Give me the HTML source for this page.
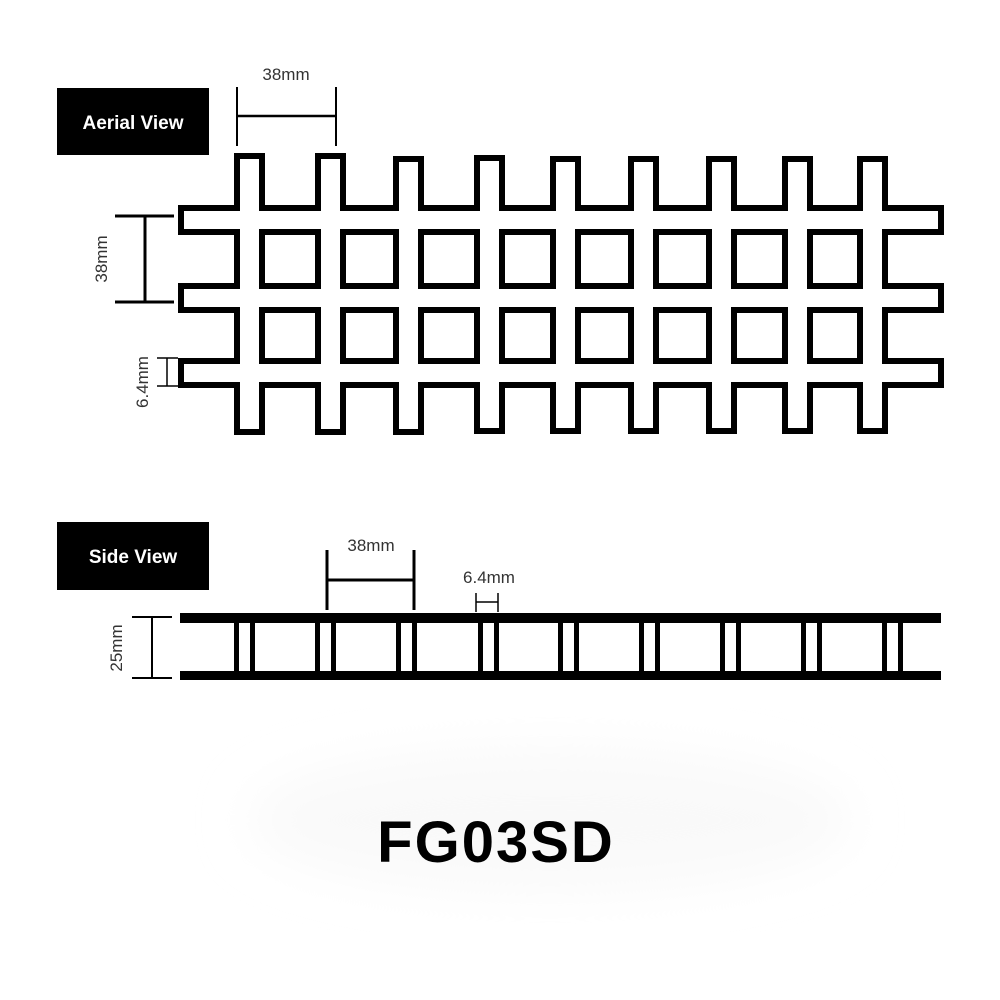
<!DOCTYPE html>
<html><head><meta charset="utf-8"><style>
html,body{margin:0;padding:0;background:#fff;}
svg{display:block;}
</style></head><body>
<svg width="1000" height="1000" viewBox="0 0 1000 1000" xmlns="http://www.w3.org/2000/svg">
<defs>
<filter id="blur" x="-30%" y="-30%" width="160%" height="160%"><feGaussianBlur stdDeviation="25"/></filter>
</defs>
<ellipse cx="550" cy="820" rx="300" ry="70" fill="#f9f9f9" filter="url(#blur)"/>

<rect x="57" y="88" width="152" height="67" fill="#000"/>
<text x="133" y="129" font-family="Liberation Sans, sans-serif" font-weight="bold" font-size="19" fill="#fff" text-anchor="middle">Aerial View</text>

<text x="286" y="80" font-family="Liberation Sans, sans-serif" font-size="17" fill="#333" text-anchor="middle">38mm</text>
<line x1="237" y1="87" x2="237" y2="146" stroke="#000" stroke-width="2"/>
<line x1="336" y1="87" x2="336" y2="146" stroke="#000" stroke-width="2"/>
<line x1="237" y1="116" x2="336" y2="116" stroke="#000" stroke-width="2.5"/>

<line x1="115" y1="216" x2="174" y2="216" stroke="#000" stroke-width="3"/>
<line x1="115" y1="302" x2="174" y2="302" stroke="#000" stroke-width="3"/>
<line x1="145" y1="216" x2="145" y2="302" stroke="#000" stroke-width="3"/>
<text transform="translate(107,259) rotate(-90)" font-family="Liberation Sans, sans-serif" font-size="17" fill="#333" text-anchor="middle">38mm</text>

<line x1="157" y1="358" x2="178" y2="358" stroke="#000" stroke-width="1.5"/>
<line x1="157" y1="386" x2="178" y2="386" stroke="#000" stroke-width="1.5"/>
<line x1="167" y1="358" x2="167" y2="386" stroke="#000" stroke-width="1.5"/>
<text transform="translate(148,382) rotate(-90)" font-family="Liberation Sans, sans-serif" font-size="17" fill="#333" text-anchor="middle">6.4mm</text>

<g fill="#000">
<rect x="234" y="153" width="31" height="282"/>
<rect x="315" y="153" width="31" height="282"/>
<rect x="393" y="156" width="31" height="279"/>
<rect x="474" y="155" width="31" height="279"/>
<rect x="550" y="156" width="31" height="278"/>
<rect x="628" y="156" width="31" height="278"/>
<rect x="706" y="156" width="31" height="278"/>
<rect x="782" y="156" width="31" height="278"/>
<rect x="857" y="156" width="31" height="278"/>
<rect x="178" y="205" width="766" height="30"/>
<rect x="178" y="283" width="766" height="30"/>
<rect x="178" y="358" width="766" height="30"/>
</g>
<g fill="#fff">
<rect x="240" y="159" width="19" height="270"/>
<rect x="321" y="159" width="19" height="270"/>
<rect x="399" y="162" width="19" height="267"/>
<rect x="480" y="161" width="19" height="267"/>
<rect x="556" y="162" width="19" height="266"/>
<rect x="634" y="162" width="19" height="266"/>
<rect x="712" y="162" width="19" height="266"/>
<rect x="788" y="162" width="19" height="266"/>
<rect x="863" y="162" width="19" height="266"/>
<rect x="184" y="211" width="754" height="18"/>
<rect x="184" y="289" width="754" height="18"/>
<rect x="184" y="364" width="754" height="18"/>
</g>

<rect x="57" y="522" width="152" height="68" fill="#000"/>
<text x="133" y="563" font-family="Liberation Sans, sans-serif" font-weight="bold" font-size="19" fill="#fff" text-anchor="middle">Side View</text>

<text x="371" y="551" font-family="Liberation Sans, sans-serif" font-size="17" fill="#333" text-anchor="middle">38mm</text>
<line x1="327" y1="550" x2="327" y2="610" stroke="#000" stroke-width="3"/>
<line x1="414" y1="550" x2="414" y2="610" stroke="#000" stroke-width="3"/>
<line x1="327" y1="580" x2="414" y2="580" stroke="#000" stroke-width="3"/>

<text x="489" y="583" font-family="Liberation Sans, sans-serif" font-size="17" fill="#333" text-anchor="middle">6.4mm</text>
<line x1="476" y1="593" x2="476" y2="612" stroke="#000" stroke-width="1.5"/>
<line x1="498" y1="593" x2="498" y2="612" stroke="#000" stroke-width="1.5"/>
<line x1="476" y1="602" x2="498" y2="602" stroke="#000" stroke-width="1.5"/>

<line x1="132" y1="617" x2="172" y2="617" stroke="#000" stroke-width="2"/>
<line x1="132" y1="678" x2="172" y2="678" stroke="#000" stroke-width="2"/>
<line x1="152" y1="617" x2="152" y2="678" stroke="#000" stroke-width="2"/>
<text transform="translate(122,648) rotate(-90)" font-family="Liberation Sans, sans-serif" font-size="17" fill="#333" text-anchor="middle">25mm</text>

<rect x="180" y="613" width="761" height="10" fill="#000"/>
<rect x="180" y="671" width="761" height="9" fill="#000"/>
<g fill="#000">
<rect x="234" y="620" width="21" height="54"/>
<rect x="315" y="620" width="21" height="54"/>
<rect x="396" y="620" width="21" height="54"/>
<rect x="478" y="620" width="21" height="54"/>
<rect x="558" y="620" width="21" height="54"/>
<rect x="639" y="620" width="21" height="54"/>
<rect x="720" y="620" width="21" height="54"/>
<rect x="801" y="620" width="21" height="54"/>
<rect x="882" y="620" width="21" height="54"/>
</g>
<g fill="#fff">
<rect x="239" y="623" width="11" height="48"/>
<rect x="320" y="623" width="11" height="48"/>
<rect x="401" y="623" width="11" height="48"/>
<rect x="483" y="623" width="11" height="48"/>
<rect x="563" y="623" width="11" height="48"/>
<rect x="644" y="623" width="11" height="48"/>
<rect x="725" y="623" width="11" height="48"/>
<rect x="806" y="623" width="11" height="48"/>
<rect x="887" y="623" width="11" height="48"/>
</g>

<text x="496" y="862" font-family="Liberation Sans, sans-serif" font-weight="bold" font-size="58" fill="#000" text-anchor="middle" letter-spacing="2">FG03SD</text>
</svg>
</body></html>
